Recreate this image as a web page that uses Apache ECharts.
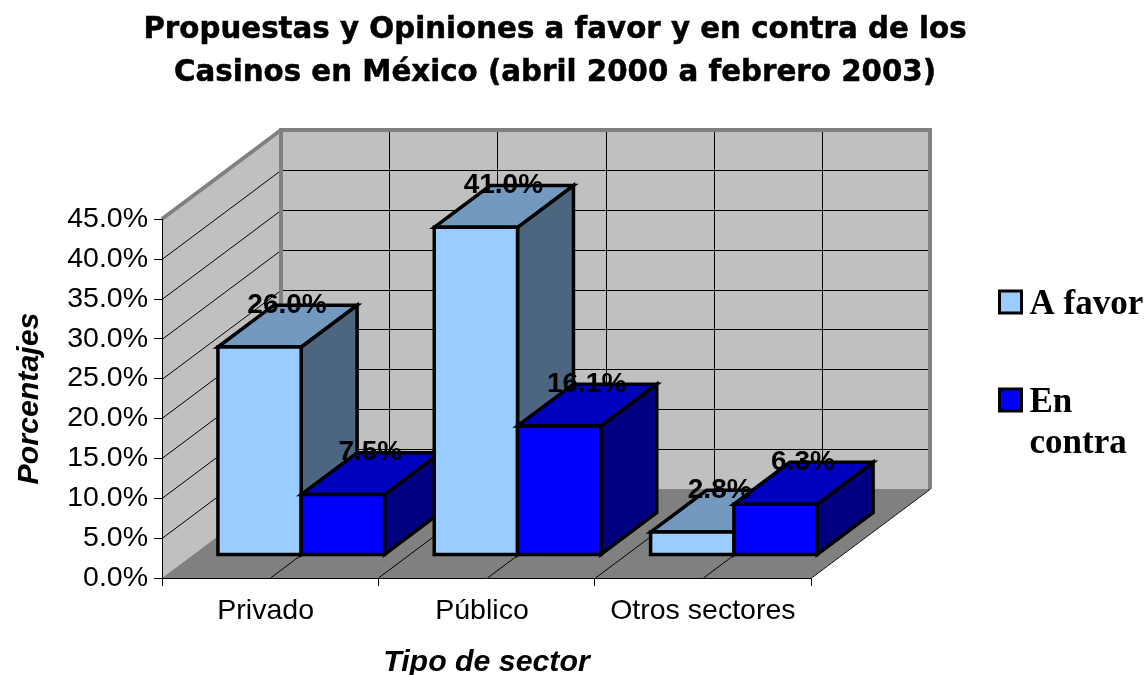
<!DOCTYPE html>
<html>
<head>
<meta charset="utf-8">
<style>
  html, body { margin: 0; padding: 0; background: #fff; }
  #main { width: 1148px; height: 675px; }
</style>
<script src="https://cdn.jsdelivr.net/npm/echarts@6/dist/echarts.min.js"></script>
</head>
<body>
<div id="main"></div>
<script>
  const categories = ['Privado', 'Público', 'Otros sectores'];
  const seriesNames = ['A favor', 'En contra'];
  const aFavor = [26.0, 41.0, 2.8];
  const enContra = [7.5, 16.1, 6.3];
  const yTicks = [0, 5, 10, 15, 20, 25, 30, 35, 40, 45];

  // fake 3d: how far the back wall sits from the front plane, in px
  const depthX = 119;
  const depthY = -89;
  const barDepth = 0.47;
  const barWidth = 0.385;

  const faces = [
    {front: '#99CCFF', top: '#7399BF', side: '#4D6680'},
    {front: '#0000FF', top: '#0000BF', side: '#000080'}
  ];

  function poly(points, fill, z2) {
    return {
      type: 'polygon',
      shape: {points: points},
      z2: z2,
      style: {fill: fill, stroke: '#000', lineWidth: 3.5, lineJoin: 'miter'}
    };
  }

  function line(x1, y1, x2, y2, color, width) {
    return {
      type: 'line',
      shape: {x1: x1, y1: y1, x2: x2, y2: y2},
      style: {stroke: color, lineWidth: width}
    };
  }

  function renderWalls(params, api) {
    const band = api.size([1, 0])[0];
    const x0 = api.coord([0, 0])[0] - band / 2;
    const x1 = x0 + band * categories.length;
    const y0 = api.coord([0, 0])[1];
    const yTop = api.coord([0, yTicks[yTicks.length - 1]])[1];
    const bx0 = x0 + depthX;
    const bx1 = x1 + depthX;
    const plain = {fill: '#C0C0C0'};
    const children = [
      {type: 'polygon', shape: {points: [[x0, yTop], [bx0, yTop + depthY], [bx0, y0 + depthY], [x0, y0]]}, style: plain},
      {type: 'polygon', shape: {points: [[bx0, yTop + depthY], [bx1, yTop + depthY], [bx1, y0 + depthY], [bx0, y0 + depthY]]}, style: plain},
      {type: 'polygon', shape: {points: [[x0, y0], [x1, y0], [bx1, y0 + depthY], [bx0, y0 + depthY]]}, style: {fill: '#808080'}}
    ];
    yTicks.slice(1, -1).forEach(function (v) {
      const y = Math.round(api.coord([0, v])[1]) + 0.5;
      children.push(line(x0, y, bx0, y + depthY, '#000', 1));
      children.push(line(bx0, y + depthY, bx1, y + depthY, '#000', 1));
    });
    // gridlines run every half category
    for (let i = 0; i <= categories.length * 2; i++) {
      const x = Math.round(x0 + i * band / 2) + 0.5;
      if (i > 0) {
        children.push(line(x, y0, x + depthX, y0 + depthY, '#000', 1));
      }
      if (i > 0 && i < categories.length * 2) {
        children.push(line(x + depthX, yTop + depthY, x + depthX, y0 + depthY, '#000', 1));
      }
    }
    children.push(line(x0, yTop, bx0, yTop + depthY, '#808080', 4));
    children.push(line(bx0 - 2, yTop + depthY, bx1 + 2, yTop + depthY, '#808080', 4));
    children.push(line(bx0, yTop + depthY, bx0, y0 + depthY, '#808080', 4));
    children.push(line(bx1, yTop + depthY, bx1, y0 + depthY, '#808080', 4));
    return {type: 'group', children: children};
  }

  function makeRenderBar(seriesIdx) {
    return function (params, api) {
      const band = api.size([1, 0])[0];
      const value = api.value(1);
      const center = api.coord([api.value(0), 0]);
      const w = band * barWidth;
      const startDepth = (1 - barDepth) / 2;
      const dx = depthX * barDepth;
      const dy = depthY * barDepth;
      const left = center[0] - w + seriesIdx * w + depthX * startDepth - 0.5;
      const right = left + w;
      const bottom = center[1] + depthY * startDepth;
      const top = api.coord([api.value(0), value])[1] + depthY * startDepth;
      const f = faces[seriesIdx];
      // left to right: later bars must cover the side of earlier ones
      const z = params.dataIndex * 4 + seriesIdx * 2;
      return {
        type: 'group',
        children: [
          poly([[right, top], [right + dx, top + dy], [right + dx, bottom + dy], [right, bottom]], f.side, z),
          poly([[left, top], [left + dx, top + dy], [right + dx, top + dy], [right, top]], f.top, z),
          poly([[left, top], [right, top], [right, bottom], [left, bottom]], f.front, z),
          {
            type: 'text',
            z2: 100,
            style: {
              text: value.toFixed(1) + '%',
              x: (left + right + dx) / 2 - 0.5,
              y: top + dy,
              align: 'center',
              verticalAlign: 'middle',
              fill: '#000',
              font: 'bold 28px "Liberation Sans"'
            }
          }
        ]
      };
    };
  }

  function toPairs(values) {
    return values.map(function (v, i) { return [i, v]; });
  }

  const chart = echarts.init(document.getElementById('main'), null, {renderer: 'canvas'});
  chart.setOption({
    animation: false,
    backgroundColor: '#fff',
    title: {
      text: 'Propuestas y Opiniones a favor y en contra de los\nCasinos en México (abril 2000 a febrero 2003)',
      left: 550,
      textAlign: 'center',
      top: 4,
      textStyle: {
        fontFamily: 'DejaVu Sans',
        fontWeight: 'bold',
        fontSize: 29.3,
        lineHeight: 43,
        color: '#000',
        textBorderColor: '#000',
        textBorderWidth: 0.5
      }
    },
    legend: {
      orient: 'vertical',
      left: 998,
      top: 287.5,
      itemWidth: 22,
      itemHeight: 22,
      itemGap: 22,
      padding: 0,
      selectedMode: false,
      icon: 'rect',
      itemStyle: {borderColor: '#000', borderWidth: 3},
      textStyle: {
        padding: [0, 0, 0, 3],
        rich: {
          t: {
            fontFamily: 'Liberation Serif',
            fontWeight: 'bold',
            fontSize: 35,
            lineHeight: 41,
            verticalAlign: 'bottom',
            color: '#000'
          }
        }
      },
      // leading blank line keeps "En" level with its swatch
      formatter: function (name) {
        return name === 'En contra' ? '{t| }\n{t|En}\n{t|contra}' : '{t|' + name + '}';
      },
      data: [
        {name: seriesNames[0], itemStyle: {color: faces[0].front}},
        {name: seriesNames[1], itemStyle: {color: faces[1].front}}
      ]
    },
    grid: {left: 162, top: 219, width: 649, height: 359, outerBoundsMode: 'none'},
    xAxis: {
      type: 'category',
      data: categories,
      z: 20,
      name: 'Tipo de sector',
      nameLocation: 'middle',
      nameGap: 70,
      nameTextStyle: {fontFamily: 'Liberation Sans', fontWeight: 'bold', fontStyle: 'italic', fontSize: 30.3, color: '#000'},
      axisLine: {show: true, lineStyle: {color: '#000', width: 1}},
      axisTick: {show: true, length: 8, lineStyle: {color: '#000', width: 1}},
      axisLabel: {
        fontFamily: 'Liberation Sans',
        fontSize: 28.5,
        color: '#000',
        margin: 19,
        interval: 0,
        // the first two labels sit a little left of their band centre
        formatter: function (name, i) { return i < 2 ? '{s|' + name + '}' : name; },
        rich: {s: {fontFamily: 'Liberation Sans', fontSize: 28.5, color: '#000', padding: [0, 9, 0, 0]}}
      }
    },
    yAxis: {
      type: 'value',
      min: 0,
      max: 45,
      interval: 5,
      z: 20,
      name: 'Porcentajes',
      nameLocation: 'middle',
      nameGap: 117,
      nameTextStyle: {fontFamily: 'Liberation Sans', fontWeight: 'bold', fontStyle: 'italic', fontSize: 30.3, color: '#000'},
      axisLine: {show: true, lineStyle: {color: '#000', width: 1}},
      axisTick: {show: true, length: 8, lineStyle: {color: '#000', width: 1}},
      axisLabel: {
        fontFamily: 'Liberation Sans',
        fontSize: 28.5,
        color: '#000',
        margin: 14,
        formatter: function (v) { return v.toFixed(1) + '%'; }
      },
      splitLine: {show: false}
    },
    series: [
      {type: 'custom', name: 'walls', silent: true, z: 1, data: [[0, 0]], renderItem: renderWalls},
      {type: 'custom', name: seriesNames[0], silent: true, z: 2, data: toPairs(aFavor), renderItem: makeRenderBar(0)},
      {type: 'custom', name: seriesNames[1], silent: true, z: 2, data: toPairs(enContra), renderItem: makeRenderBar(1)}
    ]
  });
</script>
</body>
</html>
